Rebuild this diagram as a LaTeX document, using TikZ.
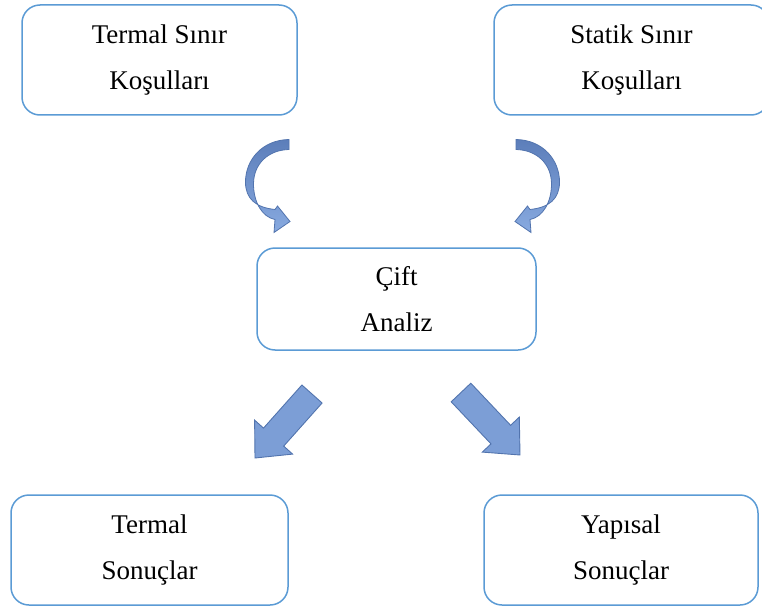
\documentclass[tikz,border=0pt]{standalone}
\usepackage{fontspec}
\setmainfont{Liberation Serif}
\definecolor{boxline}{RGB}{91,155,213}
\definecolor{arrfill}{RGB}{124,158,214}
\definecolor{arrline}{RGB}{82,116,174}
\definecolor{arrtop}{RGB}{92,126,186}
\definecolor{arrbot}{RGB}{136,170,224}
\begin{document}
\begin{tikzpicture}[x=1pt,y=-1pt,
  box/.style={draw=boxline, line width=1.5pt, rounded corners=18pt, fill=white,
    inner sep=0pt, align=center, font=\fontsize{27}{46}\selectfont},
  blockarrow/.style={fill=arrfill, draw=arrline, line width=0.9pt, line join=miter},
  curvedarrow/.style={top color=arrtop, bottom color=arrbot, draw=arrline, line width=0.8pt}]
\useasboundingbox (0,0) rectangle (762,607);
\clip (0,0) rectangle (762,607);
\node[box, minimum width=275pt, minimum height=110pt] (tl) at (159.5,60) {Termal Sınır\\Koşulları};
\node[box, minimum width=275pt, minimum height=110pt] (tr) at (631.5,60) {Statik Sınır\\Koşulları};
\node[box, minimum width=279pt, minimum height=102pt] (mid) at (396.5,299) {Çift\\Analiz};
\node[box, minimum width=277pt, minimum height=110pt] (bl) at (149.5,550) {Termal\\Sonuçlar};
\node[box, minimum width=274pt, minimum height=110pt] (br) at (621,550) {Yapısal\\Sonuçlar};
% curved arrows
\path[curvedarrow] (289,139.5) .. controls (262,140) and (245.5,160) .. (245.5,182)
  .. controls (245.5,199) and (256,207.5) .. (275,209.5)
  -- (277.5,206) -- (290,221.5) -- (274,232.5) -- (275,219.5)
  .. controls (262,217) and (253.5,202) .. (253.5,184)
  .. controls (253.5,164) and (268,150) .. (289,149.5) -- cycle;
\path[curvedarrow] (516,139.5) .. controls (543,140) and (559.5,160) .. (559.5,182)
  .. controls (559.5,199) and (549,207.5) .. (530,209.5)
  -- (527.5,206) -- (515,221.5) -- (531,232.5) -- (530,219.5)
  .. controls (543,217) and (551.5,202) .. (551.5,184)
  .. controls (551.5,164) and (537,150) .. (516,149.5) -- cycle;
% straight block arrows
\path[blockarrow] (301.9,385.0) -- (322.1,403.0) -- (283.7,446.1) -- (292.6,454.1)
  -- (255,458) -- (254.6,420.1) -- (263.5,428.1) -- cycle;
\path[blockarrow] (470.8,383.2) -- (451.2,401.8) -- (491.0,443.9) -- (482.3,452.1)
  -- (520,455) -- (519.3,417.1) -- (510.6,425.3) -- cycle;
\end{tikzpicture}
\end{document}
